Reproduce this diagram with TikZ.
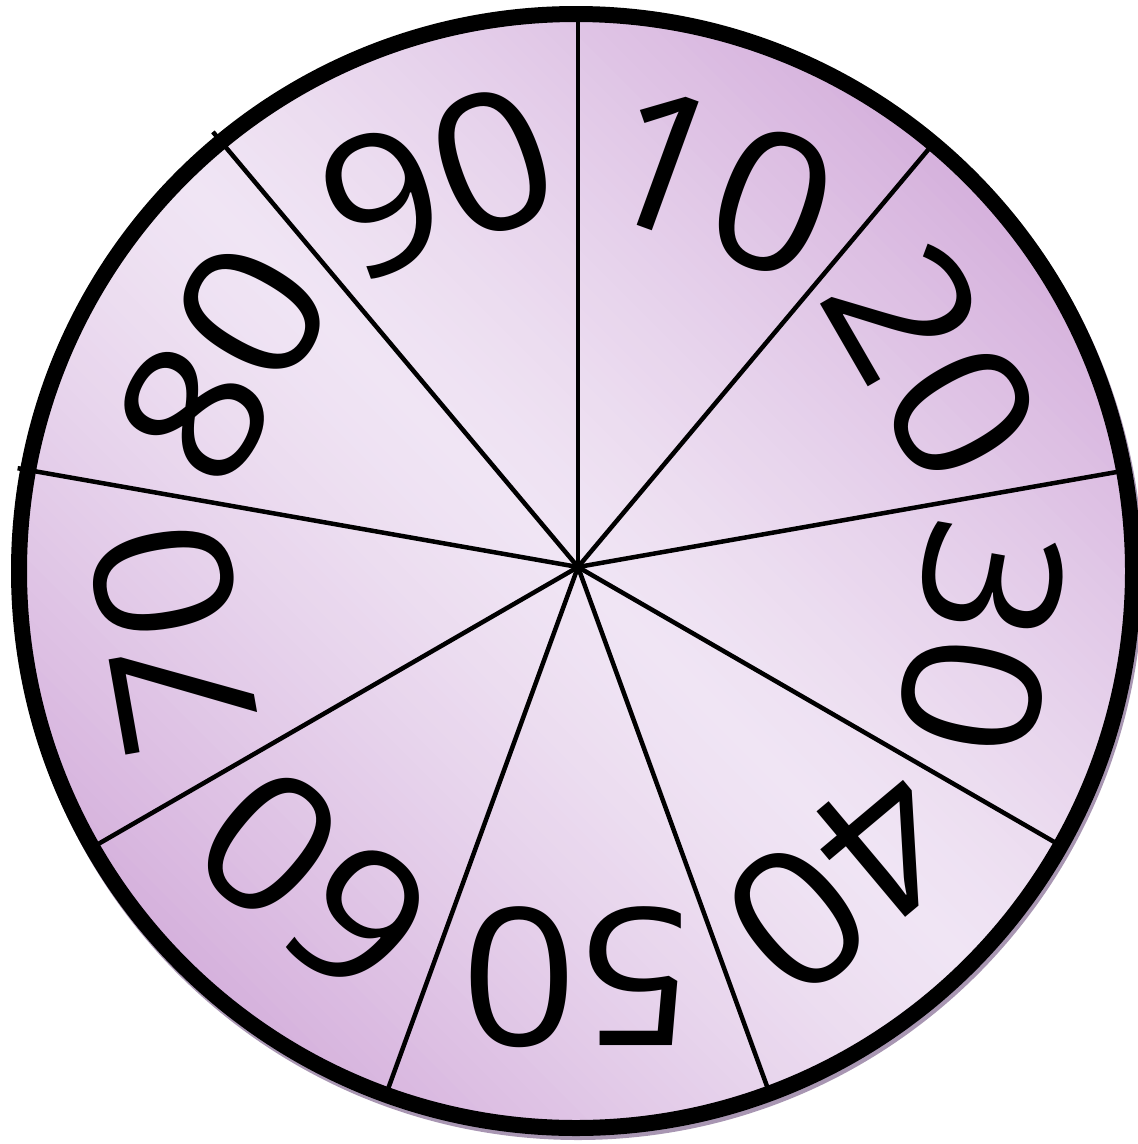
\documentclass[tikz,border=0pt]{standalone}
\usepackage{graphicx}
\usepackage{fontspec}
\setmainfont{Open Sans}
\definecolor{wlight}{RGB}{240,229,244}
\definecolor{wdark}{RGB}{213,176,220}
\definecolor{wshadow}{RGB}{168,150,178}
\begin{document}
\begin{tikzpicture}[x=1pt,y=1pt,
  spoke/.style={line width=4.5pt},
  rim/.style={line width=16pt},
  lab/.style={font=\fontsize{192}{192}\selectfont, inner sep=0pt}]
\useasboundingbox (0,-1144) rectangle (1138,0);
\coordinate (cc) at (576,-571);
\coordinate (c) at (578,-567);
\coordinate (sh) at (578,-575);
% shadow
\fill[wshadow] (sh) circle (565);
% shaded disk
\begin{scope}
  \clip (cc) circle (557);
  \begin{scope}[shift={(cc)}, rotate=45]
    \foreach \i in {-57,...,56}{
      \pgfmathsetmacro\t{100*min(1,(abs((\i+0.5)*10)/560)^1.3)}
      \fill[wdark!\t!wlight] (\i*10,-600) rectangle (\i*10+11,600);
    }
  \end{scope}
\end{scope}
% spokes
\foreach \a/\len [count=\k] in {90/556,50/556,10/556,-30/556,-70/556,-110/556,-150/556,170/569,130/568}{
  \path (c) ++(\a:\len) coordinate (s\k);
  \draw[spoke] (c) -- (s\k);
}
% labels
\foreach \k in {1,...,9}{
  \pgfmathsetmacro\ang{110-40*\k}
  \pgfmathsetmacro\rot{20-40*\k}
  \path (c) ++(\ang:410) node[lab, rotate=\rot] (l\k) {\scalebox{1.06}[1]{\k0}};
}
% rim
\draw[rim] (cc) circle (557);
\end{tikzpicture}
\end{document}
